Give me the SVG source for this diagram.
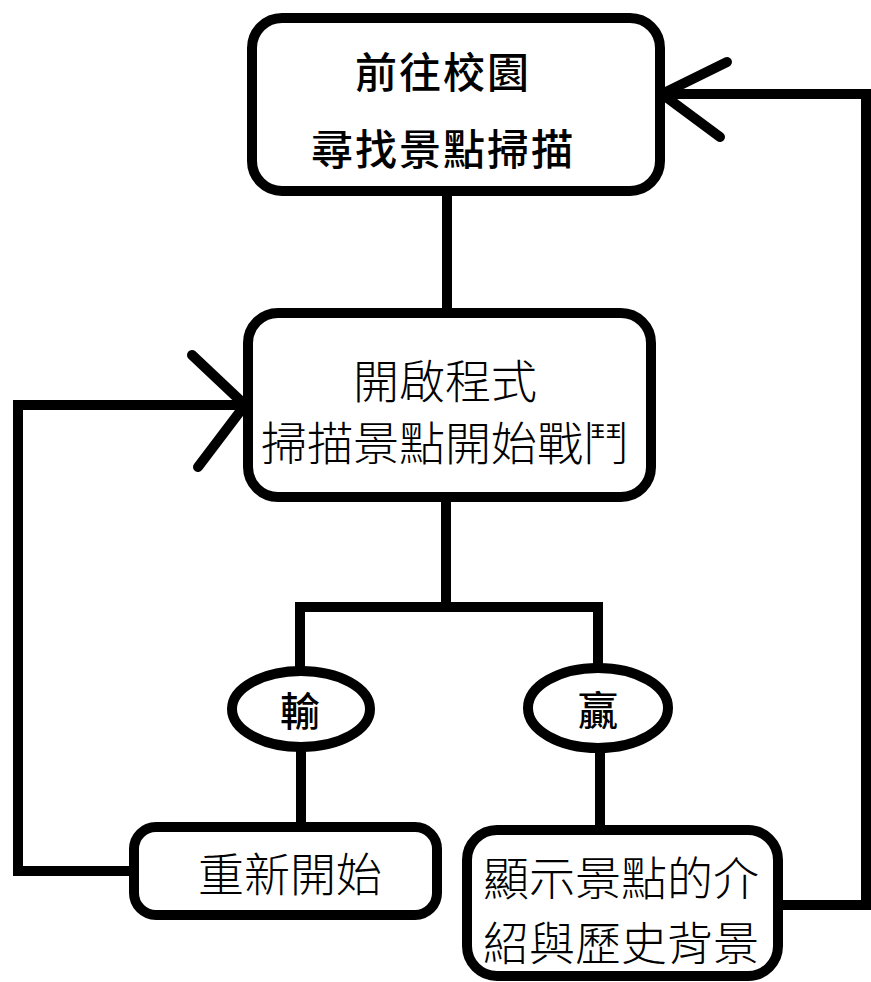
<svg xmlns="http://www.w3.org/2000/svg" width="871" height="982" viewBox="0 0 871 982">
<style>
.box{fill:#fff;stroke:#000;stroke-width:10}
.ln{fill:none;stroke:#000;stroke-width:10;stroke-linejoin:miter}
.ah{fill:none;stroke:#000;stroke-width:10;stroke-linecap:round;stroke-linejoin:round}
.t{font-family:"Noto Sans CJK TC","Noto Sans CJK SC",sans-serif;fill:#000;text-anchor:middle;dominant-baseline:central}
.t1{font-size:42px;font-weight:500;letter-spacing:2px}
.t2{font-size:46px;font-weight:300}
.t3{font-size:40px;font-weight:500}
</style>
<rect width="871" height="982" fill="#fff"/>
<g id="connectors">
<line class="ln" x1="447" y1="192" x2="447" y2="313"/>
<line class="ln" x1="446" y1="497" x2="446" y2="607"/>
<polyline class="ln" points="300,671 300,607 598,607 598,665"/>
<line class="ln" x1="301" y1="748" x2="301" y2="827"/>
<line class="ln" x1="600" y1="748" x2="600" y2="830"/>
<polyline class="ln" points="134,871 18,871 18,405 248,405"/>
<polyline class="ah" points="192,355 245,405 198,467"/>
<polyline class="ln" points="778,905 866,905 866,94 660,94"/>
<polyline class="ah" points="727,62 662,94 720,137"/>
</g>
<g id="start">
<rect class="box" x="252" y="18" width="408" height="173" rx="30"/>
<text class="t t1" x="443" y="69">前往校園</text>
<text class="t t1" x="443" y="146">尋找景點掃描</text>
</g>
<g id="open">
<rect class="box" x="248" y="313" width="403" height="184" rx="30"/>
<text class="t t2" x="445" y="378">開啟程式</text>
<text class="t t2" x="445" y="440">掃描景點開始戰鬥</text>
</g>
<g id="lose">
<ellipse class="box" cx="301" cy="709" rx="69" ry="38"/>
<text class="t t3" x="300" y="709">輸</text>
</g>
<g id="win">
<ellipse class="box" cx="598" cy="708" rx="70" ry="40"/>
<text class="t t3" x="598" y="708">贏</text>
</g>
<g id="restart">
<rect class="box" x="134" y="827" width="303" height="88" rx="22"/>
<text class="t t2" x="290" y="871">重新開始</text>
</g>
<g id="intro">
<rect class="box" x="467" y="830" width="311" height="146" rx="30"/>
<text class="t t2" x="621" y="875">顯示景點的介</text>
<text class="t t2" x="621" y="940">紹與歷史背景</text>
</g>
</svg>
